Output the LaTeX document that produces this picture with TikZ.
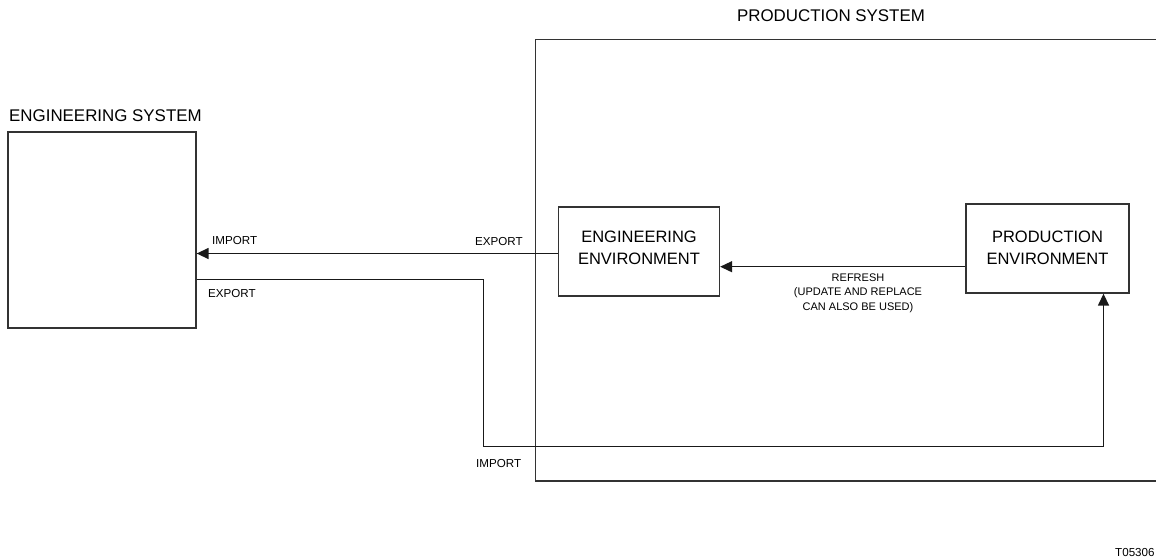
\documentclass[tikz,border=0pt]{standalone}
\usepackage{fontspec}
\setmainfont{Liberation Sans}
\usetikzlibrary{arrows.meta}
\begin{document}
\begin{tikzpicture}[x=1pt,y=-1pt,
  box/.style={draw=black!80, line width=1.3pt, inner sep=0pt},
  boxtext/.style={inner sep=0pt, align=center, font=\fontsize{16.5}{22.3}\selectfont},
  lbl/.style={inner sep=0pt, font=\fontsize{11.6}{14.5}\selectfont},
  ttl/.style={inner sep=0pt, font=\fontsize{16.9}{20}\selectfont},
  conn/.style={draw=black!90, line width=1.4pt},
  arr/.style={-{Triangle[length=12pt,width=11pt]}}]
\useasboundingbox (0,0) rectangle (1156,558);

% production system frame (right edge beyond the picture)
\draw[draw=black!80, line width=1.3pt] (1160,39.3) -- (535.7,39.3) -- (535.7,481) -- (1160,481);
\node[ttl, anchor=base] (pstitle) at (831,21.7) {PRODUCTION SYSTEM};

% engineering system
\node[box, minimum width=188pt, minimum height=196pt] (ES) at (102,230) {};
\node[ttl, anchor=base west] (estitle) at (9,121) {ENGINEERING SYSTEM};

% environments
\node[box, minimum width=161pt, minimum height=89pt] (EE) at (639,251.5) {};
\node[boxtext] (EEt) at (639,248) {ENGINEERING\\ENVIRONMENT};
\node[box, minimum width=163pt, minimum height=89pt] (PE) at (1047.5,248.5) {};
\node[boxtext] (PEt) at (1047.5,248) {PRODUCTION\\ENVIRONMENT};

% helper coordinates
\coordinate (yA) at (0,253.5);
\coordinate (yR) at (0,266.7);
\coordinate (yE) at (0,279.5);
\coordinate (yB) at (0,446.5);
\coordinate (xV) at (483.5,0);
\coordinate (xA) at (1103.5,0);

% connectors
\draw[conn, arr] (EE.west |- yA) -- (ES.east |- yA);
\draw[conn, arr] (PE.west |- yR) -- (EE.east |- yR);
\draw[conn, arr] (ES.east |- yE) -- (xV |- yE) -- (xV |- yB) -- (xA |- yB) -- (xA |- PE.south);

% labels
\node[lbl, anchor=base west] (imp1) at (212,244) {IMPORT};
\node[lbl, anchor=base west] (exp1) at (475,245.5) {EXPORT};
\node[lbl, anchor=base west] (exp2) at (208,297) {EXPORT};
\node[lbl, anchor=base west] (imp2) at (476,467) {IMPORT};
\node[inner sep=0pt, anchor=north, align=center, font=\fontsize{11}{14.7}\selectfont] (refresh) at (858,273.3) {REFRESH\\(UPDATE AND REPLACE\\CAN ALSO BE USED)};
\node[lbl, anchor=base west] (code) at (1115,556) {T05306};
\end{tikzpicture}
\end{document}
